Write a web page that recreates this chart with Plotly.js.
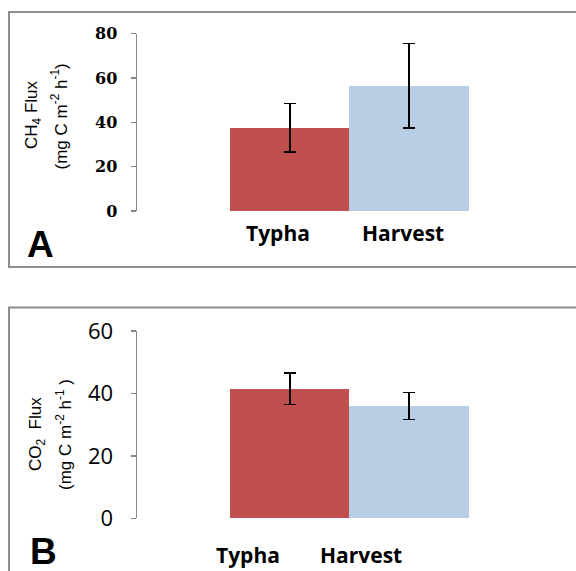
<!DOCTYPE html>
<html>
<head>
<meta charset="utf-8">
<script src="https://cdn.plot.ly/plotly-3.0.1.min.js"></script>
<style>html,body{margin:0;padding:0;background:#fff;}#chart{width:576px;height:571px;}</style>
</head>
<body>
<div id="chart"></div>
<script>
// ---- data ----
const categories = ['Typha', 'Harvest'];
const ch4Flux = [37.5, 56.5];
const ch4Err = [11, 19];
const co2Flux = [41.5, 36];
const co2Err = [5, 4.3];
const ch4Ticks = [0, 20, 40, 60, 80];
const co2Ticks = [0, 20, 40, 60];
const barColors = ['#C0504D', '#B9CDE5'];

// ---- layout helpers (pixels -> paper) ----
const W = 576, H = 571;
const fx = x => x / W;
const fy = y => 1 - y / H;
const barPx = 119.4, axisX = 137, firstBarLeft = 230;
const xr0 = -0.5 - (firstBarLeft - axisX) / barPx;
const xr1 = xr0 + (576 - axisX) / barPx;

const errStyle = (arr) => ({type: 'data', array: arr, visible: true, color: '#000', thickness: 1.6, width: 6});

const traces = [
  {type: 'bar', x: categories, y: ch4Flux, marker: {color: barColors, line: {width: 0}},
   error_y: errStyle(ch4Err), xaxis: 'x', yaxis: 'y', hoverinfo: 'none'},
  {type: 'bar', x: categories, y: co2Flux, marker: {color: barColors, line: {width: 0}},
   error_y: errStyle(co2Err), xaxis: 'x2', yaxis: 'y2', hoverinfo: 'none'}
];

const axisGray = '#868686';
const xBase = {visible: false, range: [xr0, xr1], domain: [fx(axisX), 1], type: 'category', fixedrange: true};

const layout = {
  width: W, height: H,
  margin: {l: 0, r: 0, t: 0, b: 0},
  paper_bgcolor: '#fff', plot_bgcolor: 'rgba(0,0,0,0)',
  showlegend: false, bargap: 0,
  xaxis: Object.assign({}, xBase, {anchor: 'y'}),
  xaxis2: Object.assign({}, xBase, {anchor: 'y2'}),
  yaxis: {
    domain: [fy(211), fy(33.7)], range: [0, 80], anchor: 'x',
    tickvals: ch4Ticks, ticktext: ch4Ticks.map(String),
    showgrid: false, zeroline: false, showline: true, linecolor: axisGray, linewidth: 1.5,
    ticks: 'outside', ticklen: 5, tickcolor: axisGray, tickwidth: 1.5,
    ticklabelstandoff: 10,
    tickfont: {family: 'DejaVu Serif', size: 16, color: '#000', weight: 'bold'}
  },
  yaxis2: {
    domain: [fy(518.3), fy(331)], range: [0, 60], anchor: 'x2',
    tickvals: co2Ticks, ticktext: co2Ticks.map(String),
    showgrid: false, zeroline: false, showline: true, linecolor: axisGray, linewidth: 1.5,
    ticks: 'outside', ticklen: 5, tickcolor: axisGray, tickwidth: 1.5,
    ticklabelstandoff: 13,
    tickfont: {family: 'Open Sans', size: 22, color: '#000'}
  },
  shapes: [
    {type: 'rect', xref: 'paper', yref: 'paper', x0: fx(9), x1: fx(590), y0: fy(267), y1: fy(12),
     line: {color: '#8e8e8e', width: 2}, fillcolor: 'rgba(0,0,0,0)', layer: 'below'},
    {type: 'rect', xref: 'paper', yref: 'paper', x0: fx(9), x1: fx(590), y0: fy(590), y1: fy(307.5),
     line: {color: '#8e8e8e', width: 2}, fillcolor: 'rgba(0,0,0,0)', layer: 'below'}
  ],
  annotations: []
};

const titleFont = {family: 'Liberation Sans', size: 17, color: '#000'};
const ann = layout.annotations;
// y-axis titles (two lines each)
ann.push({xref: 'paper', yref: 'paper', x: fx(33), y: fy(115), text: 'CH<sub>4</sub> Flux', textangle: -90,
  showarrow: false, xanchor: 'center', yanchor: 'middle', font: titleFont});
ann.push({xref: 'paper', yref: 'paper', x: fx(59.5), y: fy(117), text: '(mg C m<sup>-2</sup> h<sup>-1</sup>)', textangle: -90,
  showarrow: false, xanchor: 'center', yanchor: 'middle', font: titleFont});
ann.push({xref: 'paper', yref: 'paper', x: fx(37), y: fy(434), text: 'CO<sub>2</sub>&nbsp; Flux', textangle: -90,
  showarrow: false, xanchor: 'center', yanchor: 'middle', font: titleFont});
ann.push({xref: 'paper', yref: 'paper', x: fx(64), y: fy(435), text: '(mg C m<sup>-2</sup> h<sup>-1</sup> )', textangle: -90,
  showarrow: false, xanchor: 'center', yanchor: 'middle', font: titleFont});
// panel letters
const letterFont = {family: 'Liberation Sans', size: 37, color: '#000', weight: 'bold'};
ann.push({xref: 'paper', yref: 'paper', x: fx(40.5), y: fy(244), text: 'A', showarrow: false,
  xanchor: 'center', yanchor: 'middle', font: letterFont});
ann.push({xref: 'paper', yref: 'paper', x: fx(43.5), y: fy(551), text: 'B', showarrow: false,
  xanchor: 'center', yanchor: 'middle', font: letterFont});
// category labels
const catFont = {family: 'Open Sans', size: 21, color: '#000', weight: 'bold'};
const shiftA = [-11.5, -6], shiftB = [-41.5, -48];
categories.forEach((c, i) => {
  ann.push({xref: 'x', yref: 'paper', x: c, y: fy(233), xshift: shiftA[i], text: c, showarrow: false,
    xanchor: 'center', yanchor: 'middle', font: catFont});
  ann.push({xref: 'x2', yref: 'paper', x: c, y: fy(554.6), xshift: shiftB[i], text: c, showarrow: false,
    xanchor: 'center', yanchor: 'middle', font: catFont});
});

Plotly.newPlot('chart', traces, layout, {staticPlot: true, displayModeBar: false});
</script>
</body>
</html>
